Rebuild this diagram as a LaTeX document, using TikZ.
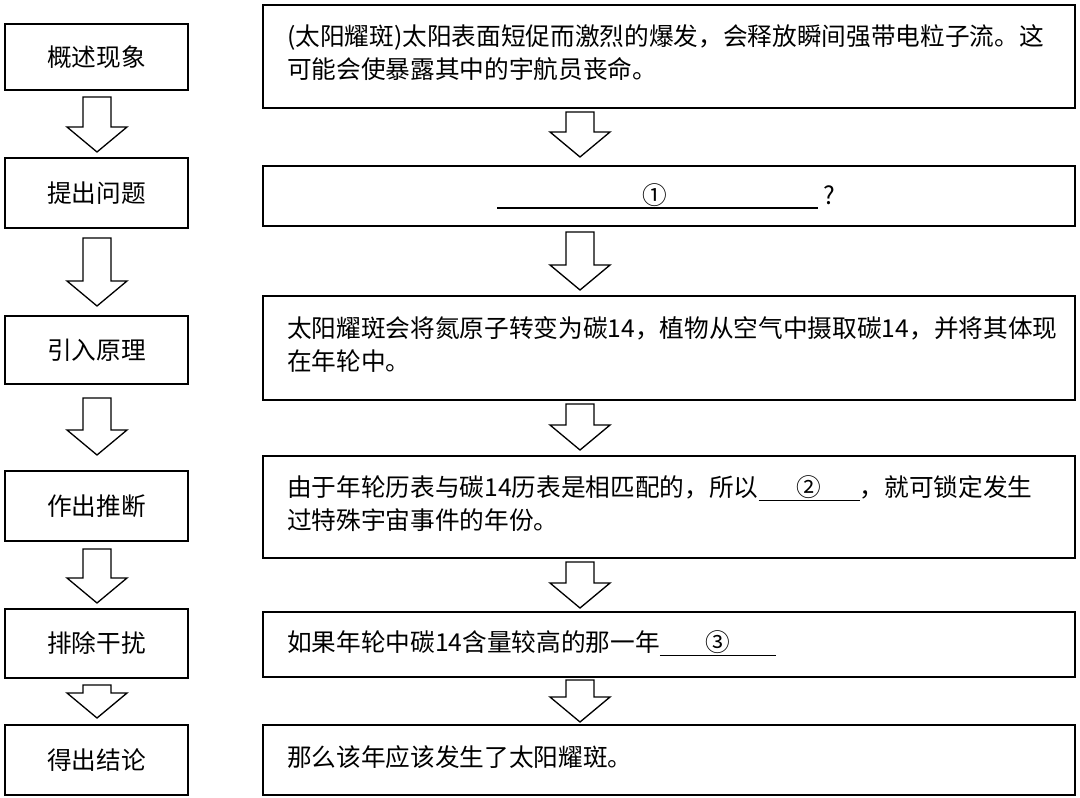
\documentclass[tikz,border=0pt]{standalone}
\usepackage{fontspec}
\setmainfont{Noto Sans CJK SC}
\begin{document}
\begin{tikzpicture}[x=0.75pt,y=-0.75pt]
\tikzset{box/.style={draw,line width=1pt},lbl/.style={font=\fontsize{18.5}{22}\selectfont},
 rtxt/.style={font=\fontsize{18.5}{25}\selectfont,anchor=north west,align=left,inner sep=0pt}}
\newcommand\harrow[3]{\draw[line width=1pt,fill=white] (#1-14,#2) -- (#1+14,#2) -- (#1+14,#3-25) -- (#1+30,#3-25) -- (#1,#3) -- (#1-30,#3-25) -- (#1-14,#3-25) -- cycle;}
\useasboundingbox (0,0) rectangle (1080,798);
% left boxes
\foreach \a/\b/\t [count=\i] in {24/90/概述现象,158/228/提出问题,316/384/引入原理,471/541/作出推断,609/678/排除干扰,725/795/得出结论}{
 \draw[box] (5,\a) rectangle (188,\b);
 \node[lbl] (l\i) at (96.5,{(\a+\b)/2}) {\t};
}
% right boxes
\foreach \a/\b [count=\i] in {5/108,166/226,296/400,456/558,612/677,725/795}{
 \draw[box] (263,\a) rectangle (1075,\b);
 \coordinate (r\i) at (669,\a);
}
\node[rtxt] (t1) at (287,24) {(太阳耀斑)太阳表面短促而激烈的爆发，会释放瞬间强带电粒子流。这\\可能会使暴露其中的宇航员丧命。};
\draw[line width=0.8pt] (497,208) -- (818,208);
\node[lbl] (c1) at (655,195) {①};
\node[lbl] (q1) at (829,195) {?};
\node[rtxt] (t3) at (287,316) {太阳耀斑会将氮原子转变为碳14，植物从空气中摄取碳14，并将其体现\\在年轮中。};
\node[rtxt] (t4) at (287,475) {由于年轮历表与碳14历表是相匹配的，所以\underline{\makebox[4.1em]{②}}，就可锁定发生\\过特殊宇宙事件的年份。};
\node[rtxt] (t5) at (287,630) {如果年轮中碳14含量较高的那一年\underline{\makebox[4.7em]{③}}};
\node[rtxt] (t6) at (287,745) {那么该年应该发生了太阳耀斑。};
% arrows
\harrow{97}{97}{152}\harrow{97}{238}{306}\harrow{97}{398}{455}\harrow{97}{549}{603}\harrow{97}{685}{718}
\harrow{580}{112}{157}\harrow{580}{232}{290}\harrow{580}{404}{450}\harrow{580}{562}{608}\harrow{580}{680}{722}
\end{tikzpicture}
\end{document}
